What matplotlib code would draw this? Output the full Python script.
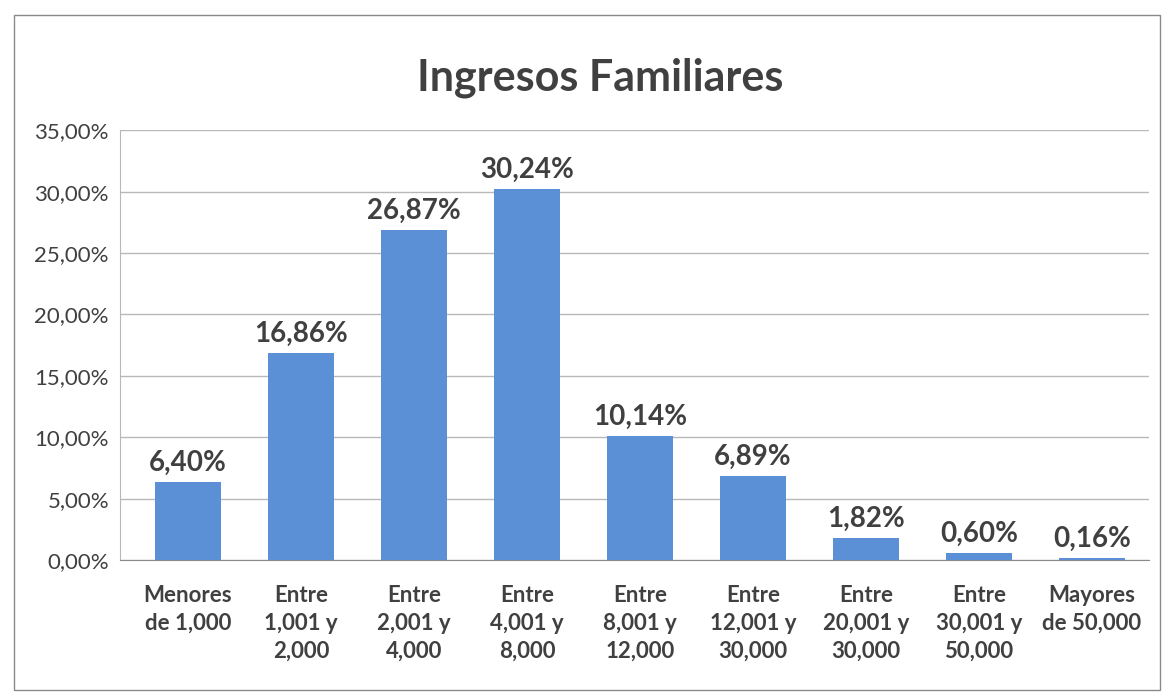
import matplotlib.pyplot as plt
from matplotlib.patches import Rectangle

plt.rcParams['font.family'] = ['Lato', 'DejaVu Sans']

categorias = ['Menores\nde 1,000', 'Entre\n1,001 y\n2,000', 'Entre\n2,001 y\n4,000',
              'Entre\n4,001 y\n8,000', 'Entre\n8,001 y\n12,000', 'Entre\n12,001 y\n30,000',
              'Entre\n20,001 y\n30,000', 'Entre\n30,001 y\n50,000', 'Mayores\nde 50,000']
porcentajes = [6.40, 16.86, 26.87, 30.24, 10.14, 6.89, 1.82, 0.60, 0.16]
ticks_y = [0, 5, 10, 15, 20, 25, 30, 35]

gris = '#404040'
azul = '#5B8FD6'

fig = plt.figure(figsize=(11.66, 6.96), dpi=100)
ax = fig.add_axes([0.103, 0.195, 0.882, 0.618])

x = list(range(len(porcentajes)))
ax.bar(x, porcentajes, width=0.58, color=azul, zorder=3)

for xi, v in zip(x, porcentajes):
    ax.text(xi, v + 0.5, f'{v:.2f}%'.replace('.', ','), ha='center', va='bottom',
            fontsize=20, fontweight='bold', color=gris, zorder=4)

ax.set_ylim(0, 35)
ax.set_xlim(-0.6, 8.5)
ax.set_yticks(ticks_y)
ax.set_yticklabels([f'{t:.2f}%'.replace('.', ',') for t in ticks_y], fontsize=16, color=gris)
ax.set_xticks(x)
ax.set_xticklabels(categorias, fontsize=16, fontweight='bold', color=gris, linespacing=1.4, va='top')
ax.tick_params(length=0, pad=8)
ax.tick_params(axis='x', pad=18)
ax.grid(axis='y', color='#b8b8b8', linewidth=1, zorder=0)
for s in ['top', 'right']:
    ax.spines[s].set_visible(False)
ax.spines['left'].set_color('#b8b8b8')
ax.spines['bottom'].set_color('#8a8a8a')

fig.text(0.515, 0.888, 'Ingresos Familiares', ha='center', va='center',
         fontsize=31, fontweight='bold', color=gris)

fig.patches.append(Rectangle((0.012, 0.008), 0.983, 0.97, transform=fig.transFigure,
                             fill=False, edgecolor='#8a8a8a', linewidth=1))

fig.savefig('out.png', dpi=100)
